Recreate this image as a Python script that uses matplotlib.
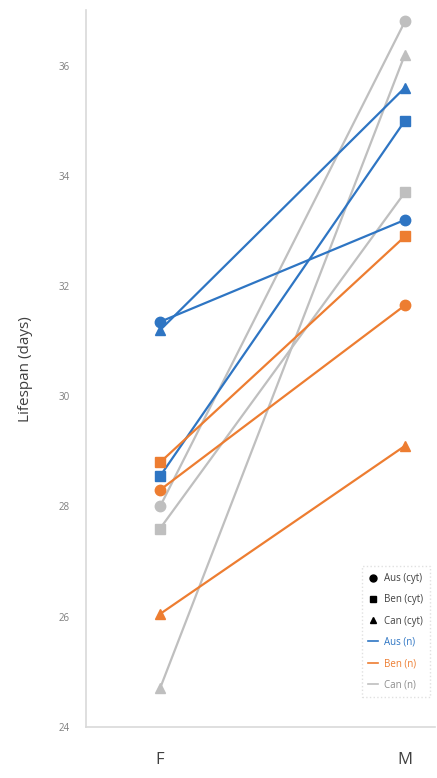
import matplotlib
matplotlib.use("Agg")
import matplotlib.pyplot as plt
from matplotlib.lines import Line2D

plt.rcParams['font.family'] = ['Open Sans', 'DejaVu Sans']

sexes = ["F", "M"]
# nucleus colour -> cytoplasm marker -> (F, M) lifespan
nuclei = ["Aus", "Ben", "Can"]
cytos = ["Aus", "Ben", "Can"]
aus_n = {"Aus": [31.35, 33.2], "Ben": [28.55, 35.0], "Can": [31.2, 35.6]}
ben_n = {"Aus": [28.3, 31.65], "Ben": [28.8, 32.9], "Can": [26.05, 29.1]}
can_n = {"Aus": [28.0, 36.8], "Ben": [27.6, 33.7], "Can": [24.7, 36.2]}
yticks = [24, 26, 28, 30, 32, 34, 36]

colors = {"Aus": "#2e75c3", "Ben": "#ed7d31", "Can": "#bfbfbf"}
markers = {"Aus": "o", "Ben": "s", "Can": "^"}

fig = plt.figure(figsize=(4.37, 7.78), dpi=100)
ax = fig.add_axes([0.197, 0.0656, 0.798, 0.921])

x = [0, 1]
for nuc, data in zip(nuclei, [aus_n, ben_n, can_n]):
	for cyt in cytos:
		ax.plot(x, data[cyt], color=colors[nuc], marker=markers[cyt],
				markersize=7.5, linewidth=1.6, zorder=3 if nuc != "Can" else 2)

ax.set_xlim(-0.302, 1.122)
ax.set_ylim(24, 37)
ax.set_xticks(x)
ax.set_xticklabels(sexes, fontsize=12, color="#404040")
ax.set_yticks(yticks)
ax.set_yticklabels([str(v) for v in yticks], fontsize=7, color="#7f7f7f")
ax.tick_params(length=0, pad=12)
ax.tick_params(axis='x', pad=18)
ax.set_ylabel("Lifespan (days)", fontsize=11, color="#404040", labelpad=18)

for s in ["top", "right"]:
	ax.spines[s].set_visible(False)
for s in ["left", "bottom"]:
	ax.spines[s].set_color("#d9d9d9")
	ax.spines[s].set_linewidth(1.2)

handles = [Line2D([], [], color="black", marker=markers[c], linestyle="none", markersize=5) for c in cytos]
handles += [Line2D([], [], color=colors[n], linewidth=1.2) for n in nuclei]
labels = [c + " (cyt)" for c in cytos] + [n + " (n)" for n in nuclei]
leg = ax.legend(handles, labels, loc="lower right", bbox_to_anchor=(1.0, 0.035),
				fontsize=7, frameon=True, fancybox=False, handlelength=1.0,
				handletextpad=0.6, borderpad=0.7, labelspacing=1.05)
leg.get_frame().set_edgecolor("#d9d9d9")
leg.get_frame().set_linestyle(":")
text_colors = ["#404040", "#404040", "#404040", colors["Aus"], colors["Ben"], "#8c8c8c"]
for t, c in zip(leg.get_texts(), text_colors):
	t.set_color(c)

fig.savefig("out.png", dpi=100)
